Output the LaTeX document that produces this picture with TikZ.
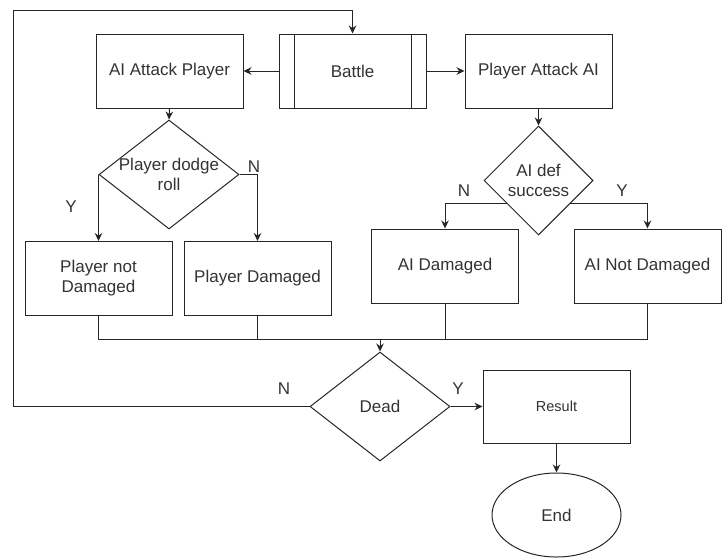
\documentclass[tikz,border=0pt]{standalone}
\usepackage{fontspec}
\setmainfont{Liberation Sans}
\usetikzlibrary{shapes.geometric,arrows.meta,calc}
\definecolor{linegray}{HTML}{262626}
\definecolor{txtgray}{HTML}{333333}
\begin{document}
\begin{tikzpicture}[x=1pt,y=-1pt,
  font=\fontsize{17}{20}\selectfont,
  line/.style={draw=linegray, line width=1pt},
  arr/.style={line, -{Stealth[length=8pt,width=7.5pt]}},
  box/.style={line, rectangle, minimum width=147pt, minimum height=74pt,
    inner sep=0pt, align=center, text=txtgray},
  decision/.style={line, diamond, minimum width=140pt, minimum height=109pt,
    inner sep=0pt},
  dlabel/.style={text=txtgray, align=center, inner sep=0pt},
  yn/.style={text=txtgray, inner sep=0pt}]
\useasboundingbox (0,0) rectangle (727,558);

% top row
\node[box] (battle) at (352.5,71) {Battle};
\node[box] (aiatk) at (169.5,71) {AI Attack Player};
\node[box] (platk) at (538.5,71) {Player Attack AI};
\draw[line] ($(battle.north west)+(15.5,0)$) -- ($(battle.south west)+(15.5,0)$);
\draw[line] ($(battle.north east)+(-15.5,0)$) -- ($(battle.south east)+(-15.5,0)$);

% player branch
\node[decision, label={[dlabel]center:Player dodge\\roll}] (dodge) at (169,174.5) {};
\node[box] (pnd) at (98.5,278.5) {Player not\\Damaged};
\node[box] (pd) at (257.5,278.5) {Player Damaged};

% AI branch
\node[decision, minimum width=109pt, label={[dlabel]center:AI def\\success}] (aidef) at (538.5,180.5) {};
\node[box] (aid) at (445,266) {AI Damaged};
\node[box] (aind) at (647.5,266) {AI Not Damaged};

% outcome
\node[decision, label={[dlabel]center:Dead}] (dead) at (380,406.5) {};
\node[box, minimum height=73pt, font=\fontsize{14.5}{17}\selectfont] (result) at (556.5,406.5) {Result};
\node[line, ellipse, minimum width=129pt, minimum height=84pt, inner sep=0pt, text=txtgray] (endn) at (556.5,515) {End};

% connectors from Battle
\draw[arr] (battle.west) -- (aiatk.east);
\draw[arr] (battle.east) -- (platk.east -| platk.west);
\draw[arr] (aiatk.south) -- (dodge.north);
\draw[arr] (platk.south) -- (platk.south |- aidef.north);

% dodge branches
\draw[arr] (dodge.west) -- (dodge.west |- pnd.north);
\draw[arr] (dodge.east) -| (pd.north);
\node[yn] (ylab1) at (71,207) {Y};
\node[yn] (nlab1) at (254,167) {N};

% defence branches
\coordinate (defn) at ($(aidef.west)!0.42!(aidef.south)$);
\coordinate (defy) at ($(aidef.east)!0.42!(aidef.south)$);
\draw[arr] (defn) -| (aid.north);
\draw[arr] (defy) -| (aind.north);
\node[yn] (nlab2) at (464,191) {N};
\node[yn] (ylab2) at (622,191) {Y};

% merge into Dead
\coordinate (merge) at (380,339);
\draw[line] (pnd.south) -- (pnd.south |- merge) -- (aind.south |- merge) -- (aind.south);
\draw[line] (pd.south) -- (pd.south |- merge);
\draw[line] (aid.south) -- (aid.south |- merge);
\draw[arr] (merge) -- (dead.north);

% Dead outcomes
\coordinate (loopbl) at (13,406.5);
\coordinate (looptl) at (13,10);
\draw[arr] (dead.west) -- (loopbl) -- (looptl) -- (looptl -| battle.north) -- (battle.north);
\draw[arr] (dead.east) -- (result.west);
\node[yn] (nlab3) at (284,389) {N};
\node[yn] (ylab3) at (458,389) {Y};
\draw[arr] (result.south) -- (endn.north);
\end{tikzpicture}
\end{document}
